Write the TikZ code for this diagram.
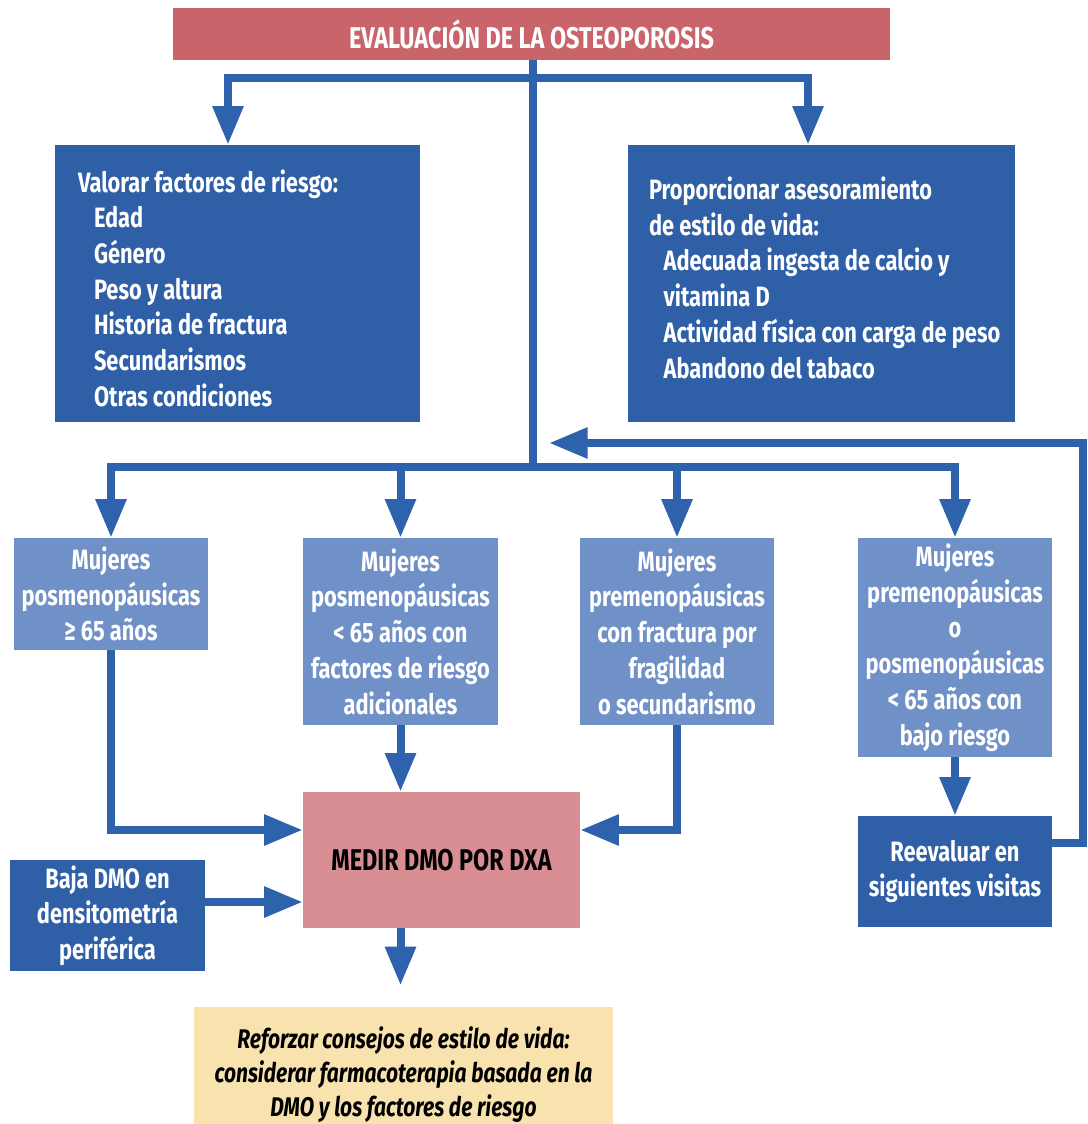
\documentclass[tikz,border=0pt]{standalone}
\usepackage{fontspec}
\setmainfont{Fira Sans}[FakeStretch=0.78]
\usetikzlibrary{arrows.meta}
\definecolor{dblue}{HTML}{2F5FA6}
\definecolor{lblue}{HTML}{7090C8}
\definecolor{titred}{HTML}{C9646B}
\definecolor{medirc}{HTML}{D98E93}
\definecolor{cream}{HTML}{F8E2AE}
\definecolor{arrc}{HTML}{2E62AD}
\tikzset{
  bx/.style={rectangle, inner sep=0pt, align=center, text=white,
    font=\fontsize{21}{26.8}\selectfont\bfseries},
  darkbox/.style={bx, fill=dblue},
  lightbox/.style={bx, fill=lblue},
  listbox/.style={darkbox, align=flush left, minimum height=207.75pt},
  conn/.style={draw=arrc, line width=6pt, line join=miter},
  arrow/.style={conn, -{Triangle[width=22pt,length=29pt]}},
}
\begin{document}
\begin{tikzpicture}[x=0.75pt,y=-0.75pt]
\useasboundingbox (0,0) rectangle (1088,1124);
% nodes
\node[bx, fill=titred, minimum width=537.75pt, minimum height=39pt,
  font=\fontsize{22.5}{26}\selectfont\bfseries] (title) at (531.5,34) {EVALUACIÓN DE LA OSTEOPOROSIS};
\node[listbox, inner xsep=17.25pt, text width=239.25pt] (valorar) at (237.5,283.5)
  {\rule{0pt}{24pt}Valorar factores de riesgo:\\
   \hspace*{12pt}Edad\\
   \hspace*{12pt}Género\\
   \hspace*{12pt}Peso y altura\\
   \hspace*{12pt}Historia de fractura\\
   \hspace*{12pt}Secundarismos\\
   \hspace*{12pt}Otras condiciones};
\node[listbox, inner xsep=15.75pt, text width=258.75pt] (estilo) at (821.5,283.5)
  {Proporcionar asesoramiento\\
   de estilo de vida:\\
   \hspace*{11pt}Adecuada ingesta de calcio y\\
   \hspace*{11pt}vitamina D\\
   \hspace*{11pt}\rlap{Actividad física con carga de peso}\\
   \hspace*{11pt}Abandono del tabaco\rule[-9pt]{0pt}{9pt}};
\node[lightbox, minimum width=145.5pt, minimum height=84pt] (m1) at (111,594)
  {Mujeres\\posmenopáusicas\\≥ 65 años};
\node[lightbox, minimum width=146.25pt, minimum height=140.25pt] (m2) at (400.5,631.5)
  {Mujeres\\posmenopáusicas\\< 65 años con\\factores de riesgo\\adicionales};
\node[lightbox, minimum width=145.5pt, minimum height=140.25pt] (m3) at (677,631.5)
  {Mujeres\\premenopáusicas\\con fractura por\\fragilidad\\o secundarismo};
\node[lightbox, minimum width=145.5pt, minimum height=164.25pt] (m4) at (955,647.5)
  {Mujeres\\premenopáusicas\\o\\posmenopáusicas\\< 65 años con\\bajo riesgo};
\node[bx, fill=medirc, text=black, minimum width=207.75pt, minimum height=102pt,
  font=\fontsize{22.5}{27}\selectfont\bfseries] (medir) at (441.5,860)
  {MEDIR DMO POR DXA};
\node[darkbox, minimum width=146.25pt, minimum height=83.25pt] (baja) at (107.5,915.5)
  {Baja DMO en\\densitometría\\periférica};
\node[darkbox, minimum width=145.5pt, minimum height=83.25pt] (reeval) at (955,871.5)
  {Reevaluar en\\siguientes visitas};
\node[bx, fill=cream, text=black, minimum width=314.25pt, minimum height=102pt,
  font=\fontsize{20.2}{25.5}\selectfont\bfseries\itshape] (refor) at (403.5,1075)
  {Reforzar consejos de estilo de vida:\\considerar farmacoterapia basada en la\\DMO y los factores de riesgo};
% coordinates
\coordinate (tbar) at (533,78);
\coordinate (hub) at (533,467);
\coordinate (lx) at (228,0);
\coordinate (rx) at (808,0);
\coordinate (yA) at (0,830);
\coordinate (yB) at (0,902);
\coordinate (fbR) at (1083,843);
\coordinate (fbT) at (1083,443);
\coordinate (fbTip) at (549,443);
% connectors
\draw[conn] (title.south -| hub) -- (hub);
\draw[arrow] (tbar) -| (valorar.north -| lx);
\draw[arrow] (tbar) -| (estilo.north -| rx);
\draw[arrow] (hub) -| (m1.north);
\draw[arrow] (hub) -| (m4.north);
\draw[arrow] (m2.north |- hub) -- (m2.north);
\draw[arrow] (m3.north |- hub) -- (m3.north);
\draw[arrow] (m1.south) |- (medir.west |- yA);
\draw[arrow] (m3.south) |- (medir.east |- yA);
\draw[arrow] (m2.south) -- (medir.north -| m2.south);
\draw[arrow] (baja.east |- yB) -- (medir.west |- yB);
\draw[arrow, shorten >=16pt] (medir.south -| m2.south) -- (refor.north -| m2.south);
\draw[arrow] (m4.south) -- (reeval.north);
\draw[arrow] (reeval.east |- fbR) -- (fbR) -- (fbT) -- (fbTip);
\end{tikzpicture}
\end{document}
